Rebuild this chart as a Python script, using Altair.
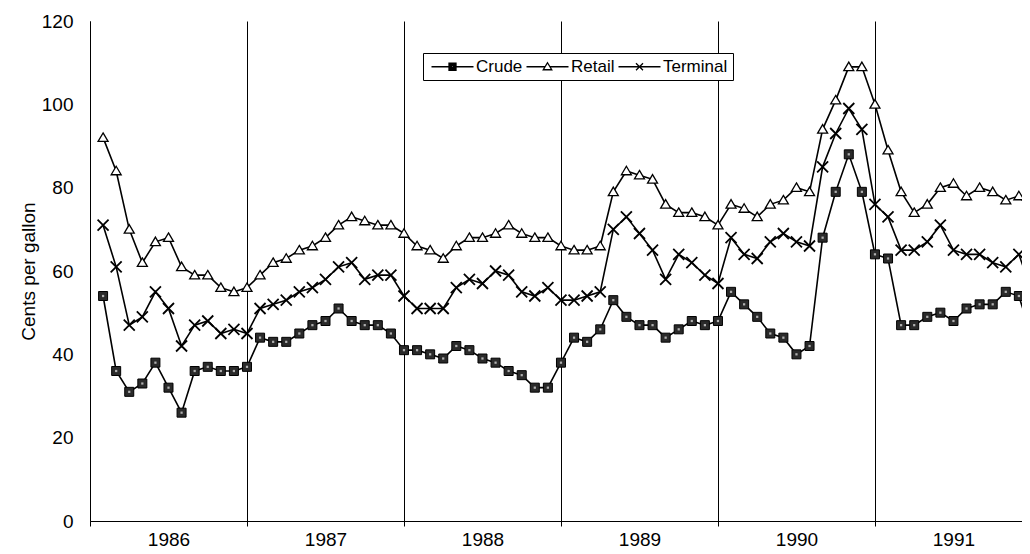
import altair as alt
import pandas as pd

# ---- data (monthly, Jan 1986 .. Dec 1991), cents per gallon ----
series_names = ["Crude", "Retail", "Terminal"]
first_year = 1986

crude = [54, 36, 31, 33, 38, 32, 26, 36, 37, 36, 36, 37,
         44, 43, 43, 45, 47, 48, 51, 48, 47, 47, 45, 41,
         41, 40, 39, 42, 41, 39, 38, 36, 35, 32, 32, 38,
         44, 43, 46, 53, 49, 47, 47, 44, 46, 48, 47, 48,
         55, 52, 49, 45, 44, 40, 42, 68, 79, 88, 79, 64,
         63, 47, 47, 49, 50, 48, 51, 52, 52, 55, 54, 44]

retail = [92, 84, 70, 62, 67, 68, 61, 59, 59, 56, 55, 56,
          59, 62, 63, 65, 66, 68, 71, 73, 72, 71, 71, 69,
          66, 65, 63, 66, 68, 68, 69, 71, 69, 68, 68, 66,
          65, 65, 66, 79, 84, 83, 82, 76, 74, 74, 73, 71,
          76, 75, 73, 76, 77, 80, 79, 94, 101, 109, 109, 100,
          89, 79, 74, 76, 80, 81, 78, 80, 79, 77, 78, 74]

terminal = [71, 61, 47, 49, 55, 51, 42, 47, 48, 45, 46, 45,
            51, 52, 53, 55, 56, 58, 61, 62, 58, 59, 59, 54,
            51, 51, 51, 56, 58, 57, 60, 59, 55, 54, 56, 53,
            53, 54, 55, 70, 73, 69, 65, 58, 64, 62, 59, 57,
            68, 64, 63, 67, 69, 67, 66, 85, 93, 99, 94, 76,
            73, 65, 65, 67, 71, 65, 64, 64, 62, 61, 64, 55]

y_ticks = [0, 20, 40, 60, 80, 100, 120]

rows = []
for name, vals in zip(series_names, [crude, retail, terminal]):
    for i, v in enumerate(vals):
        rows.append({"t": i + 1, "series": name, "value": v})
df = pd.DataFrame(rows)

FONT = "Liberation Sans"
XMAX = 71.24
W, H = 932, 500

marker_paths = {
    "Crude": "M-0.9,-0.9H0.9V0.9H-0.9Z",
    "Retail": "M0,-0.95L1,0.75H-1Z",
    "Terminal": "M-1.1,-1.1L1.1,1.1M-1.1,1.1L1.1,-1.1",
}
# legend symbols: a short line with the marker in its middle
legend_paths = {
    "Crude": ("M-4.2,0H-0.7M0.7,0H4.2"
              "M-0.7,-0.7H0.7V0.7H-0.7Z"
              "M-0.45,-0.45H0.45V0.45H-0.45Z"
              "M-0.2,-0.2H0.2V0.2H-0.2Z"),
    "Retail": "M-4.2,0H-0.49M0.49,0H4.2M0,-0.8L0.85,0.6H-0.85Z",
    "Terminal": "M-4.2,0H4.2M-0.7,-0.7L0.7,0.7M-0.7,0.7L0.7,-0.7",
}
fills = {"Crude": "#2a2a2a", "Retail": "white", "Terminal": "white"}

x_scale = alt.Scale(domain=[0, XMAX], nice=False, zero=False)
y_scale = alt.Scale(domain=[0, 120], nice=False)

x_axis = alt.Axis(
    values=list(range(0, 73, 6)),
    labelExpr=f"datum.value % 12 == 6 ? toString({first_year} + (datum.value - 6) / 12) : ''",
    grid=True,
    gridColor="black",
    gridWidth=1,
    gridOpacity={"condition": {"test": "datum.value % 12 == 0", "value": 1}, "value": 0},
    ticks=True,
    tickSize=5,
    tickColor="black",
    tickOpacity={"condition": {"test": "datum.value % 12 == 0", "value": 1}, "value": 0},
    domainColor="black",
    labelFont=FONT,
    labelFontSize=19,
    labelColor="black",
    labelPadding=4,
    labelOverlap=False,
    labelFlush=False,
    title=None,
)

y_axis = alt.Axis(
    values=y_ticks,
    grid=False,
    ticks=False,
    domainColor="black",
    labelFont=FONT,
    labelFontSize=19,
    labelColor="black",
    labelPadding=17,
    title="Cents per gallon",
    titleFont=FONT,
    titleFontSize=19,
    titleFontWeight="normal",
    titleColor="black",
    titleX=-56,
    titleY=H / 2,
    titleAngle=270,
    titleAlign="center",
    titleBaseline="alphabetic",
)

base = alt.Chart(df).encode(
    x=alt.X("t:Q", scale=x_scale, axis=x_axis),
    y=alt.Y("value:Q", scale=y_scale, axis=y_axis),
)

lines = base.mark_line(color="black", strokeWidth=1.6, clip=True).encode(
    detail="series:N"
)

def marker_layer(name, sw):
    return base.transform_filter(alt.datum.series == name).mark_point(
        shape=marker_paths[name], size=100, filled=True, fill=fills[name],
        stroke="black", strokeWidth=sw, opacity=1, clip=True,
    )

crude_m = marker_layer("Crude", 1.0)
crude_dot = base.transform_filter(alt.datum.series == "Crude").mark_point(
    shape="square", size=5, filled=True, fill="#b0b0b0", strokeWidth=0, opacity=1, clip=True
)
retail_m = marker_layer("Retail", 1.3)
term_m = marker_layer("Terminal", 1.8)

leg = alt.Legend(
    orient="none",
    legendX=333,
    legendY=32,
    direction="horizontal",
    title=None,
    labelFont=FONT,
    labelFontSize=17,
    labelColor="black",
    symbolOffset=16,
    labelOffset=15,
    columnPadding=0,
    padding=5,
    strokeColor="black",
    fillColor="white",
    symbolSize=100,
    symbolOpacity=1,
    symbolStrokeColor="black",
    symbolStrokeWidth=1.3,
)

# legend-only layer: no rows are drawn, the explicit domain keeps the legend
legend_layer = base.transform_filter("false").mark_point(
    size=100, filled=False, stroke="black", strokeWidth=1.3, opacity=1
).encode(
    shape=alt.Shape("series:N",
                    scale=alt.Scale(domain=series_names,
                                    range=[legend_paths[s] for s in series_names]),
                    legend=leg),
)

chart = alt.layer(lines, crude_m, crude_dot, retail_m, term_m, legend_layer).properties(
    width=W,
    height=H,
    autosize=alt.AutoSizeParams(type="none"),
    padding={"left": 82, "top": 13, "right": 0, "bottom": 29},
).configure(font=FONT).configure_view(stroke=None)

chart.save("out.html", embed_options={"renderer": "svg", "actions": False})
